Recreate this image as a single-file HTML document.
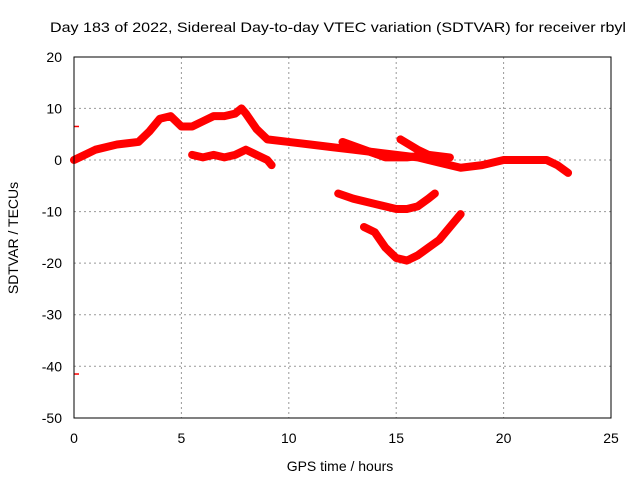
<!DOCTYPE html>
<html><head><meta charset="utf-8"><style>body{margin:0;background:#fff}svg{display:block;font-family:"Liberation Sans",sans-serif;font-size:14px}</style></head>
<body>
<svg id="c" width="640" height="480">
<text x="338" y="32" text-anchor="middle" textLength="576" lengthAdjust="spacingAndGlyphs">Day 183 of 2022, Sidereal Day-to-day VTEC variation (SDTVAR) for receiver rbyl</text>
<text x="340" y="471" text-anchor="middle">GPS time / hours</text>
<text transform="translate(18,238) rotate(-90)" text-anchor="middle">SDTVAR / TECUs</text>
<g id="grid"></g><g id="ticks"></g><g id="marks"></g>
<rect x="74" y="57" width="537" height="361" fill="none" stroke="#000"/>
</svg>
<script>
const xTicks=[0,5,10,15,20,25];
const yTicks=[20,10,0,-10,-20,-30,-40,-50];
const arcAx=[0,0.5,1,2,3,3.5,4,4.5,5,5.5,6,6.5,7,7.5,7.8,8,8.5,9,10,11,12,13,14,15,16,17,18,19,20,21,22,22.5,23];
const arcAy=[0,1,2,3,3.5,5.5,8,8.5,6.5,6.5,7.5,8.5,8.5,9,10,9,6,4,3.5,3,2.5,2,1.5,1,0.5,-0.5,-1.5,-1,0,0,0,-1,-2.5];
const arcBx=[5.5,6,6.5,7,7.5,8,8.5,9,9.2];
const arcBy=[1,0.5,1,0.5,1,2,1,0,-1];
const arcCx=[12.5,13.5,14.5,15.5,16.5,17.5];
const arcCy=[3.5,2,0.5,0.5,1,0.5];
const arcC2x=[15.2,16,17];
const arcC2y=[4,2,0];
const arcDx=[12.3,13,14,15,15.5,16,16.5,16.8];
const arcDy=[-6.5,-7.5,-8.5,-9.5,-9.5,-9,-7.5,-6.5];
const arcEx=[13.5,14,14.5,15,15.5,16,16.5,17,17.5,18];
const arcEy=[-13,-14,-17,-19,-19.5,-18.5,-17,-15.5,-13,-10.5];
const outX=[0,0];
const outY=[6.5,-41.5];
const X=v=>74+v*537/25, Y=v=>160-v*361/70;
const NS="http://www.w3.org/2000/svg";
function mk(t,a,p){const e=document.createElementNS(NS,t);for(const k in a)e.setAttribute(k,a[k]);document.getElementById(p).appendChild(e);return e;}
xTicks.forEach(v=>{
 if(v>0&&v<25){const g=mk('line',{x1:X(v),x2:X(v),y1:57,y2:418,stroke:'#999','stroke-dasharray':'2,3'},'grid');
 
 }
 const t=mk('text',{x:X(v),y:443,'text-anchor':'middle'},'ticks');t.textContent=v;
 
 
});
yTicks.forEach(v=>{
 if(v<20&&v>-50){const g=mk('line',{x1:74,x2:611,y1:Y(v),y2:Y(v),stroke:'#999','stroke-dasharray':'2,3'},'grid');
 
 }
 const t=mk('text',{x:62,y:Y(v)+5,'text-anchor':'end'},'ticks');t.textContent=v;
 
 
});
[[arcAx,arcAy,'arc-main'],[arcBx,arcBy,'arc-b'],[arcCx,arcCy,'arc-c'],[arcC2x,arcC2y,'arc-c2'],[arcDx,arcDy,'arc-d'],[arcEx,arcEy,'arc-e']].forEach(([xs,ys,n])=>{
 const p=mk('polyline',{points:xs.map((x,i)=>X(x)+','+Y(ys[i])).join(' '),fill:'none',stroke:'#f00','stroke-width':8,'stroke-linejoin':'round','stroke-linecap':'round'},'marks');
 
 
});
outX.forEach((x,i)=>{
 const l=mk('line',{x1:X(x),x2:X(x)+5,y1:Y(outY[i]),y2:Y(outY[i]),stroke:'#f00','stroke-width':1.5},'marks');
 
 
});
</script>
</body></html>
